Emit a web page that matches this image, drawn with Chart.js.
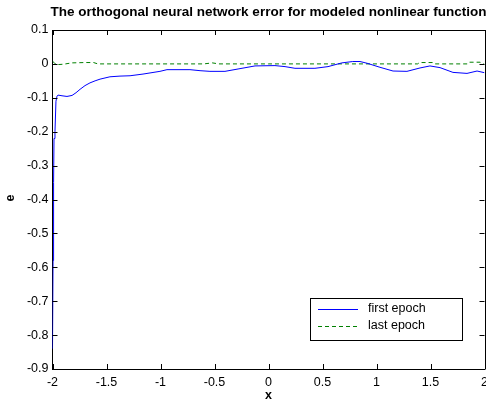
<!DOCTYPE html>
<html>
<head>
<meta charset="utf-8">
<script src="https://cdn.jsdelivr.net/npm/chart.js@4.4.1/dist/chart.umd.min.js"></script>
<style>
  html, body { margin: 0; padding: 0; background: #fff; }
  #wrap { width: 486px; height: 404px; }
</style>
</head>
<body>
<div id="wrap"><canvas id="errChart" width="486" height="404"></canvas></div>
<script>
// values
const firstX = [-2.000, -1.995, -1.990, -1.986, -1.977, -1.968, -1.958, -1.949, -1.912, -1.866,
                -1.819, -1.782, -1.745, -1.699, -1.653, -1.606, -1.560, -1.468, -1.375, -1.282,
                -1.162, -1.005, -0.940, -0.727, -0.634, -0.542, -0.403, -0.282, -0.125, 0.060,
                0.153, 0.245, 0.430, 0.551, 0.680, 0.780, 0.847, 0.912, 1.032, 1.153,
                1.282, 1.403, 1.495, 1.588, 1.708, 1.838, 1.931, 2.000];
const firstE = [-0.84, -0.58, -0.35, -0.22, -0.20, -0.11, -0.095, -0.092, -0.094, -0.096,
                -0.093, -0.085, -0.075, -0.064, -0.056, -0.050, -0.045, -0.038, -0.036, -0.035,
                -0.030, -0.022, -0.017, -0.017, -0.020, -0.022, -0.022, -0.015, -0.006, -0.005,
                -0.008, -0.013, -0.013, -0.008, 0.003, 0.007, 0.007, 0.002, -0.010, -0.021,
                -0.022, -0.012, -0.006, -0.011, -0.025, -0.028, -0.021, -0.026];

const lastX = [-2.000, -1.980, -1.950, -1.900, -1.820, -1.700, -1.620, -1.580, -1.300, -1.000,
               -0.600, -0.520, -0.460, 0.000, 0.500, 0.900, 1.380, 1.400, 1.520, 1.540,
               1.840, 1.860, 1.960, 1.980, 2.000];
const lastE = [0.008, 0.002, -0.002, -0.001, 0.003, 0.004, 0.004, 0.000, 0.000, 0.000,
               0.000, 0.003, 0.000, 0.000, 0.000, 0.000, 0.000, 0.004, 0.004, 0.000,
               0.000, 0.005, 0.005, 0.000, -0.001];

const xTicks = [-2, -1.5, -1, -0.5, 0, 0.5, 1, 1.5, 2];
const yTicks = [0.1, 0, -0.1, -0.2, -0.3, -0.4, -0.5, -0.6, -0.7, -0.8, -0.9];

const seriesNames = ["first epoch", "last epoch"];
const titleText = "The orthogonal neural network error for modeled nonlinear function";

const FONT = "Liberation Sans, Arial, sans-serif";

function pairs(xs, ys) {
    return xs.map((x, i) => ({ x: x, y: ys[i] }));
}

// title, axis labels, inward ticks, box, legend
const decorPlugin = {
    id: "decor",
    afterDraw(chart) {
        const ctx = chart.ctx;
        const a = chart.chartArea;
        const xs = chart.scales.x, ys = chart.scales.y;
        ctx.save();

        // top and right frame
        ctx.strokeStyle = "#000";
        ctx.lineWidth = 1;
        ctx.beginPath();
        ctx.moveTo(Math.round(a.left) + 0.5, Math.round(a.top) + 0.5);
        ctx.lineTo(Math.round(a.right) + 0.5, Math.round(a.top) + 0.5);
        ctx.lineTo(Math.round(a.right) + 0.5, Math.round(a.bottom) + 0.5);
        ctx.stroke();

        // inward ticks
        ctx.beginPath();
        xTicks.forEach(v => {
            const px = Math.round(xs.getPixelForValue(v)) + 0.5;
            ctx.moveTo(px, a.bottom); ctx.lineTo(px, a.bottom - 5);
            ctx.moveTo(px, a.top); ctx.lineTo(px, a.top + 5);
        });
        yTicks.forEach(v => {
            const py = Math.round(ys.getPixelForValue(v)) + 0.5;
            ctx.moveTo(a.left, py); ctx.lineTo(a.left + 5, py);
            ctx.moveTo(a.right, py); ctx.lineTo(a.right - 5, py);
        });
        ctx.stroke();

        // title and axis labels
        ctx.fillStyle = "#000";
        ctx.textAlign = "center";
        ctx.textBaseline = "middle";
        ctx.font = "bold 13.5px " + FONT;
        ctx.fillText(titleText, (a.left + a.right) / 2, 12);
        ctx.font = "bold 12.5px " + FONT;
        ctx.fillText("x", (a.left + a.right) / 2, 396);
        ctx.save();
        ctx.translate(11, 198);
        ctx.rotate(-Math.PI / 2);
        ctx.fillText("e", 0, 0);
        ctx.restore();

        // legend
        const bx = 310.5, by = 298.5, bw = 152, bh = 42;
        ctx.fillStyle = "#fff";
        ctx.fillRect(bx, by, bw, bh);
        ctx.strokeStyle = "#000";
        ctx.strokeRect(bx, by, bw, bh);
        ctx.font = "12.5px " + FONT;
        ctx.textAlign = "left";
        chart.data.datasets.forEach((ds, i) => {
            const ly = 309.5 + i * 17;
            ctx.strokeStyle = ds.borderColor;
            ctx.setLineDash(ds.borderDash || []);
            ctx.beginPath();
            ctx.moveTo(318, ly);
            ctx.lineTo(358, ly);
            ctx.stroke();
            ctx.setLineDash([]);
            ctx.fillStyle = "#000";
            ctx.fillText(ds.label, 368, ly - 0.5);
        });
        ctx.restore();
    }
};

new Chart(document.getElementById("errChart"), {
    type: "line",
    data: {
        datasets: [
            {
                label: seriesNames[0],
                data: pairs(firstX, firstE),
                borderColor: "#0000ff",
                borderWidth: 1,
                pointRadius: 0,
                tension: 0
            },
            {
                label: seriesNames[1],
                data: pairs(lastX, lastE),
                borderColor: "#008000",
                borderWidth: 1,
                borderDash: [4, 3],
                pointRadius: 0,
                tension: 0
            }
        ]
    },
    options: {
        responsive: false,
        animation: false,
        devicePixelRatio: 1,
        layout: { padding: { left: 0, top: 30, right: 1.5, bottom: 0 } },
        plugins: {
            legend: { display: false },
            title: { display: false },
            tooltip: { enabled: false }
        },
        scales: {
            x: {
                type: "linear",
                min: -2, max: 2,
                afterBuildTicks: s => { s.ticks = xTicks.map(v => ({ value: v })); },
                afterFit: s => { s.height = 35; s.paddingLeft = 0; s.paddingRight = 0; },
                grid: { display: false, drawTicks: false },
                border: { display: true, color: "#000", width: 1 },
                ticks: {
                    color: "#000",
                    padding: 6,
                    maxRotation: 0,
                    autoSkip: false,
                    font: { family: FONT, size: 12.5 },
                    callback: v => String(v)
                }
            },
            y: {
                type: "linear",
                min: -0.9, max: 0.1,
                afterBuildTicks: s => { s.ticks = yTicks.map(v => ({ value: v })); },
                afterFit: s => { s.width = 52.5; s.paddingTop = 0; s.paddingBottom = 0; },
                grid: { display: false, drawTicks: false },
                border: { display: true, color: "#000", width: 1 },
                ticks: {
                    color: "#000",
                    padding: 4,
                    autoSkip: false,
                    font: { family: FONT, size: 12.5 },
                    callback: v => String(Math.round(v * 10) / 10)
                }
            }
        }
    },
    plugins: [decorPlugin]
});
</script>
</body>
</html>
